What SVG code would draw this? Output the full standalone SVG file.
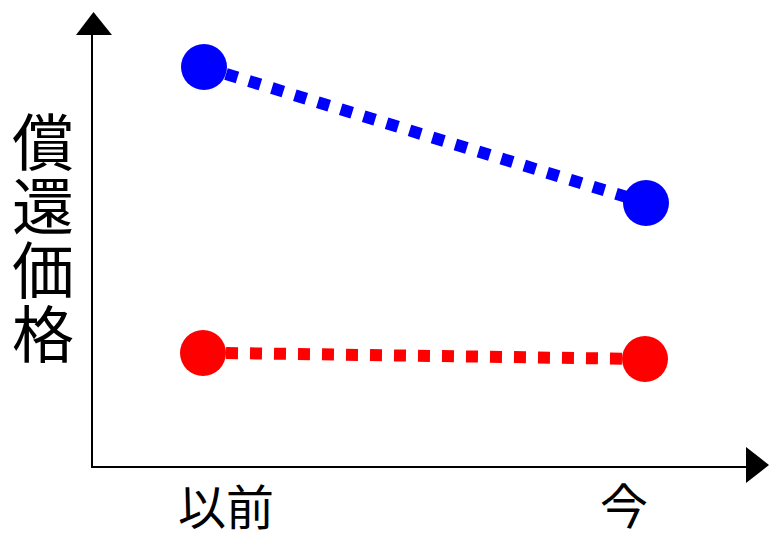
<svg xmlns="http://www.w3.org/2000/svg" width="782" height="533" viewBox="0 0 782 533">
<style>
.lbl{font-family:"Noto Sans CJK JP","Noto Sans CJK SC",sans-serif;fill:#000;text-anchor:middle}
.axis{stroke:#000;stroke-width:2;fill:none}
.dash{stroke-width:12;stroke-dasharray:12 12;fill:none}
</style>
<rect width="782" height="533" fill="#fff"/>
<g id="axes">
<line class="axis" x1="92" y1="34" x2="92" y2="467"/>
<line class="axis" x1="91" y1="467" x2="748" y2="467"/>
<polygon points="76,35 112,35 93.5,12" fill="#000"/>
<polygon points="746,447 746,483 769,465" fill="#000"/>
</g>
<g id="connectors">
<line class="dash" x1="226" y1="74" x2="646" y2="203" stroke="#0000ff"/>
<line class="dash" x1="226" y1="353" x2="646" y2="359" stroke="#ff0000"/>
</g>
<g id="blue-before"><circle cx="204" cy="67" r="23" fill="#0000ff"/></g>
<g id="blue-now"><circle cx="646" cy="203" r="23" fill="#0000ff"/></g>
<g id="red-before"><circle cx="203" cy="353" r="23" fill="#ff0000"/></g>
<g id="red-now"><circle cx="645" cy="359" r="23" fill="#ff0000"/></g>
<g id="y-label">
<text class="lbl" font-size="62" x="43" y="239" style="writing-mode:vertical-rl;letter-spacing:2px">償還価格</text>
</g>
<g id="x-labels">
<text class="lbl" font-size="48" x="226" y="525">以前</text>
<text class="lbl" font-size="48" x="624" y="524">今</text>
</g>
</svg>
